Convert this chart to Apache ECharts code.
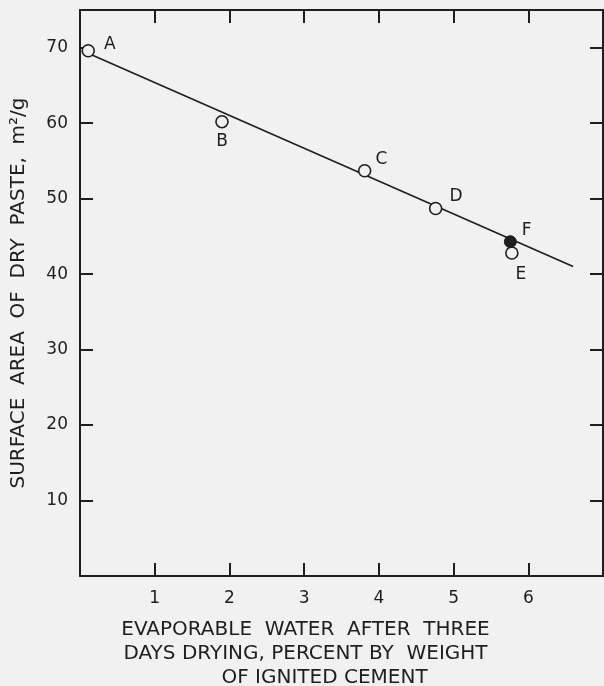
<!DOCTYPE html>
<html>
<head>
<meta charset="utf-8">
<script src="https://cdn.jsdelivr.net/npm/echarts@6/dist/echarts.min.js"></script>
<style>
  html, body { margin: 0; padding: 0; background: #f1f1f1; }
  #chart { width: 604px; height: 686px; }
</style>
</head>
<body>
<div id="chart"></div>
<script>
// Open-circle specimens
const pointNames = ['A', 'B', 'C', 'D', 'E'];
const waterPct = [0.11, 1.90, 3.81, 4.76, 5.78];
const surfaceArea = [69.6, 60.2, 53.7, 48.7, 42.8];

// Filled-circle specimen
const filledNames = ['F'];
const filledWater = [5.76];
const filledArea = [44.3];

// Fitted straight line through the points
const fitX = [0.1, 6.6];
const fitY = [69.3, 41.0];

// Axis ticks
const xTicks = [1, 2, 3, 4, 5, 6];
const yTicks = [10, 20, 30, 40, 50, 60, 70];

// Label placement per point name
const labelOffsets = {
  A: { position: 'right', offset: [4, -6] },
  B: { position: 'bottom', offset: [0, 0] },
  C: { position: 'right', offset: [-1, -11] },
  D: { position: 'right', offset: [2, -12] },
  E: { position: 'bottom', offset: [9, 1] },
  F: { position: 'right', offset: [0, -11] }
};

const ink = '#1e1e1e';
const bg = '#f1f1f1';
const fontFamily = 'DejaVu Sans';

function pointData(names, xs, ys) {
  return names.map((n, i) => ({
    name: n,
    value: [xs[i], ys[i]],
    label: Object.assign({ show: true, formatter: '{b}' }, labelOffsets[n])
  }));
}

const tickFmt = list => v => (list.indexOf(Math.round(v * 1000) / 1000) >= 0 ? String(v) : '');

const chart = echarts.init(document.getElementById('chart'));
chart.setOption({
  backgroundColor: bg,
  animation: false,
  grid: { left: 80, right: 1, top: 10, bottom: 110, containLabel: false, outerBoundsMode: 'none' },
  xAxis: [
    {
      type: 'value', position: 'bottom', min: 0, max: 7, interval: 1,
      axisLine: { show: true, onZero: false, lineStyle: { color: ink, width: 2 } },
      axisTick: { show: true, inside: true, length: 13, lineStyle: { color: ink, width: 2 } },
      axisLabel: { color: ink, fontSize: 17, fontFamily, margin: 14, formatter: tickFmt(xTicks) },
      splitLine: { show: false },
      name: 'EVAPORABLE  WATER  AFTER  THREE\nDAYS DRYING, PERCENT BY  WEIGHT\n      OF IGNITED CEMENT',
      nameLocation: 'middle',
      nameGap: 42,
      nameTextStyle: {
        color: ink, fontSize: 20, fontFamily, lineHeight: 24,
        align: 'center', verticalAlign: 'top', padding: [0, 72, 0, 0]
      }
    },
    {
      type: 'value', position: 'top', min: 0, max: 7, interval: 1,
      axisLine: { show: true, onZero: false, lineStyle: { color: ink, width: 2 } },
      axisTick: { show: true, inside: true, length: 13, lineStyle: { color: ink, width: 2 } },
      axisLabel: { show: false },
      splitLine: { show: false }
    }
  ],
  yAxis: [
    {
      type: 'value', position: 'left', min: 0, max: 75, interval: 10,
      axisLine: { show: true, onZero: false, lineStyle: { color: ink, width: 2 } },
      axisTick: { show: true, inside: true, length: 13, lineStyle: { color: ink, width: 2 } },
      axisLabel: { color: ink, fontSize: 17, fontFamily, margin: 12, formatter: tickFmt(yTicks) },
      splitLine: { show: false },
      name: 'SURFACE  AREA  OF  DRY  PASTE,  m\u00b2/g',
      nameLocation: 'middle',
      nameGap: 51,
      nameRotate: 90,
      nameTextStyle: { color: ink, fontSize: 20, fontFamily }
    },
    {
      type: 'value', position: 'right', min: 0, max: 75, interval: 10,
      axisLine: { show: true, onZero: false, lineStyle: { color: ink, width: 2 } },
      axisTick: { show: true, inside: true, length: 13, lineStyle: { color: ink, width: 2 } },
      axisLabel: { show: false },
      splitLine: { show: false }
    }
  ],
  series: [
    {
      type: 'line',
      data: fitX.map((x, i) => [x, fitY[i]]),
      showSymbol: false,
      symbol: 'none',
      lineStyle: { color: ink, width: 1.6 },
      z: 2,
      silent: true
    },
    {
      type: 'scatter',
      data: pointData(pointNames, waterPct, surfaceArea),
      symbol: 'circle',
      symbolSize: 12,
      itemStyle: { color: bg, borderColor: ink, borderWidth: 1.6, opacity: 1 },
      label: { color: ink, fontSize: 17, fontFamily },
      z: 3
    },
    {
      type: 'scatter',
      data: pointData(filledNames, filledWater, filledArea),
      symbol: 'circle',
      symbolSize: 12,
      itemStyle: { color: ink, borderColor: ink, borderWidth: 1, opacity: 1 },
      label: { color: ink, fontSize: 17, fontFamily },
      z: 4
    }
  ]
});
</script>
</body>
</html>
